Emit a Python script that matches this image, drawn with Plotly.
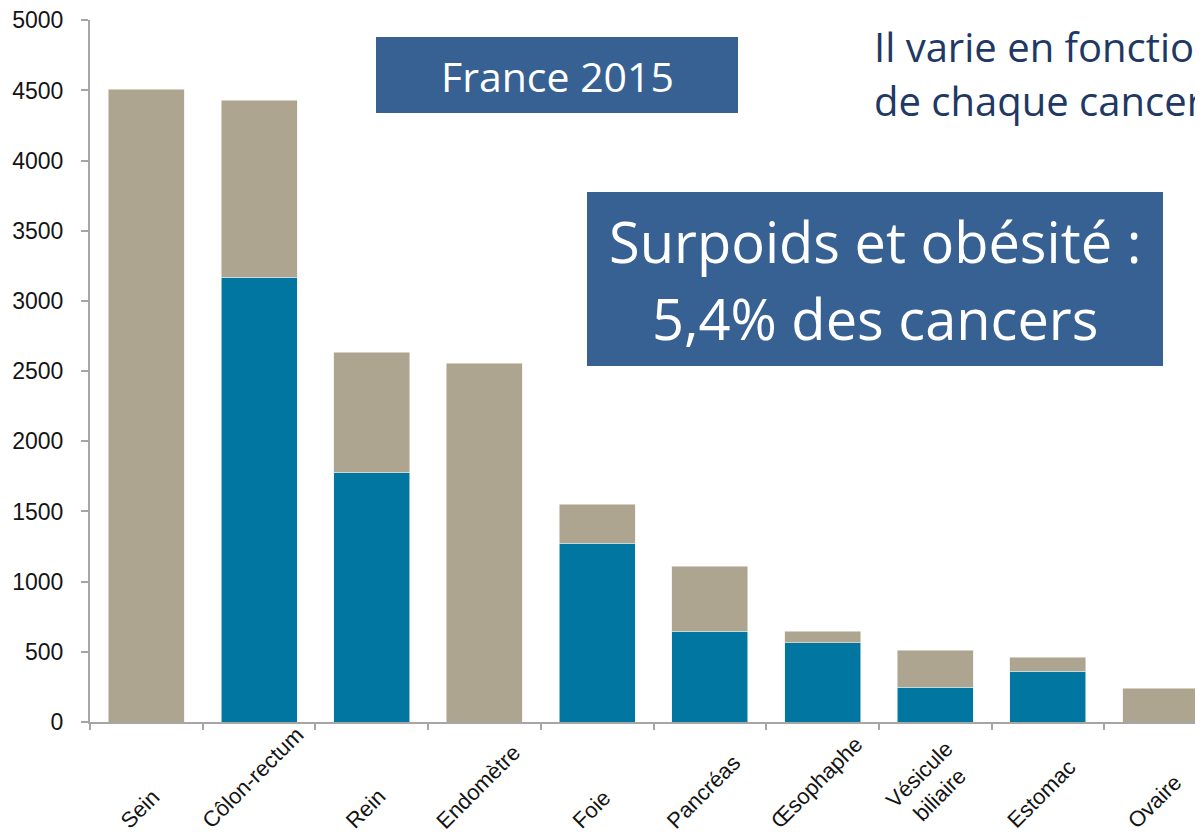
import plotly.graph_objects as go

categories = ["Sein", "Côlon-rectum", "Rein", "Endomètre", "Foie", "Pancréas",
              "Œsophaphe", "Vésicule<br>biliaire", "Estomac", "Ovaire"]
totals = [4510, 4430, 2635, 2555, 1553, 1110, 648, 513, 463, 242]
blue_part = [0, 3170, 1780, 0, 1275, 648, 563, 249, 363, 0]
beige_part = [t - b for t, b in zip(totals, blue_part)]
y_ticks = [0, 500, 1000, 1500, 2000, 2500, 3000, 3500, 4000, 4500, 5000]

BEIGE = "#ADA58F"
BLUE = "#0076A1"
BOX = "#376192"
NAVY = "#1F3864"

# page body has an 8px margin: figure occupies window from (8, 8)
OFF = 8
WIN_W, WIN_H = 1203, 836
W, H = WIN_W - OFF, WIN_H - OFF
L, R_PX, T, B_PX = 90, 1203, 20, 722   # plot area in window pixels


def px_x(p):
    return (p - L) / (R_PX - L)


def px_y(p):
    return (B_PX - p) / (B_PX - T)


idx = list(range(len(categories)))

fig = go.Figure()
fig.add_trace(go.Bar(x=idx, y=blue_part,
                     marker=dict(color=BLUE, line=dict(width=0.6, color="#E6EEF2")),
                     hoverinfo="skip"))
fig.add_trace(go.Bar(x=idx, y=beige_part,
                     marker=dict(color=BEIGE, line=dict(width=0.6, color="#EEEBE4")),
                     hoverinfo="skip"))

fig.update_layout(
    width=W, height=H,
    barmode="stack", bargap=0.326,
    showlegend=False,
    paper_bgcolor="white", plot_bgcolor="white",
    margin=dict(l=L - OFF, r=WIN_W - R_PX, t=T - OFF, b=WIN_H - B_PX, pad=0),
    font=dict(family="Liberation Sans, Arial, sans-serif", color="#1a1a1a"),
    xaxis=dict(
        type="linear",
        range=[-0.5, -0.5 + (R_PX - L) / 112.7],
        tickvals=[i - 0.5 for i in range(len(categories) + 1)],
        showticklabels=False,
        showline=True, linecolor="#A6A6A6", linewidth=2,
        ticks="outside", ticklen=6, tickcolor="#A6A6A6", tickwidth=2,
        showgrid=False, zeroline=False,
    ),
    yaxis=dict(
        range=[0, 5002], tickvals=y_ticks,
        tickfont=dict(size=23, color="#141414"),
        ticklabelstandoff=13, ticklabeloverflow="allow",
        showline=True, linecolor="#A6A6A6", linewidth=2,
        ticks="outside", ticklen=7, tickcolor="#A6A6A6", tickwidth=2,
        showgrid=False, zeroline=False,
    ),
)

# Category labels (rotated, bottom-aligned like the source)
for i, name in enumerate(categories):
    fig.add_annotation(xref="x", yref="paper", x=i, y=px_y(836),
                       text=name, showarrow=False, textangle=-45,
                       xanchor="center", yanchor="bottom", xshift=-6,
                       font=dict(family="Liberation Sans, Arial, sans-serif", size=22, color="#141414"))

# Boxes
fig.add_shape(type="rect", xref="paper", yref="paper",
              x0=px_x(376), x1=px_x(738), y0=px_y(113), y1=px_y(37),
              fillcolor=BOX, line=dict(width=0), layer="above")
fig.add_shape(type="rect", xref="paper", yref="paper",
              x0=px_x(587), x1=px_x(1163), y0=px_y(366), y1=px_y(192),
              fillcolor=BOX, line=dict(width=0), layer="above")

TXT = "Open Sans, Noto Sans, sans-serif"
fig.add_annotation(xref="paper", yref="paper", x=px_x(557), y=px_y(76),
                   text="France 2015", showarrow=False,
                   font=dict(family=TXT, size=41, color="white"),
                   xanchor="center", yanchor="middle")
fig.add_annotation(xref="paper", yref="paper", x=px_x(875), y=px_y(241),
                   text="Surpoids et obésité :", showarrow=False,
                   font=dict(family=TXT, size=56, color="white"),
                   xanchor="center", yanchor="middle")
fig.add_annotation(xref="paper", yref="paper", x=px_x(875), y=px_y(318),
                   text="5,4% des cancers", showarrow=False,
                   font=dict(family=TXT, size=56, color="white"),
                   xanchor="center", yanchor="middle")
fig.add_annotation(xref="paper", yref="paper", x=px_x(872), y=px_y(47),
                   text="Il varie en fonction", showarrow=False,
                   font=dict(family=TXT, size=40, color=NAVY),
                   xanchor="left", yanchor="middle", align="left")
fig.add_annotation(xref="paper", yref="paper", x=px_x(872), y=px_y(100),
                   text="de chaque cancer", showarrow=False,
                   font=dict(family=TXT, size=40, color=NAVY),
                   xanchor="left", yanchor="middle", align="left")

fig.write_html("out.html")
